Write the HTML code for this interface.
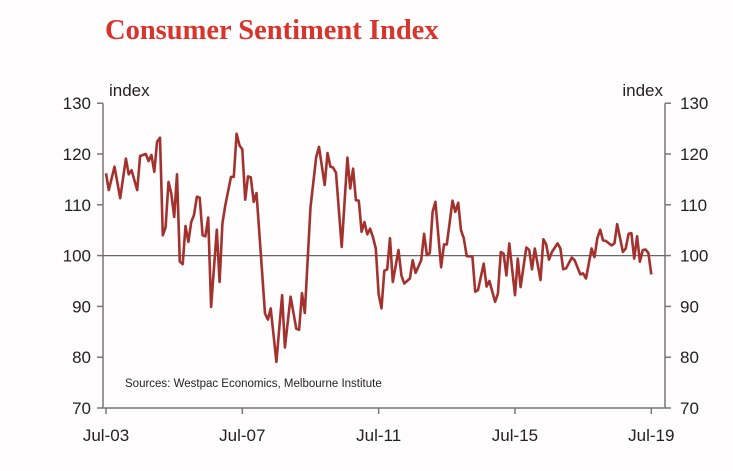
<!DOCTYPE html>
<html><head><meta charset="utf-8"><style>
body{margin:0;background:#fff;}
svg{display:block;font-family:"Liberation Sans",Arial,sans-serif;}
</style></head><body>
<svg id="chart" width="733" height="471">
<rect width="733" height="471" fill="#fffdfd"/>
<text x="105" y="39" font-family="Liberation Serif,serif" font-weight="bold" font-size="28.5" fill="#d9342b">Consumer Sentiment Index</text>
<g id="axes"></g>
<g id="plot"></g>
</svg>
<script>
const months=[0,1,3,5,7,8,9,11,12,14,15,16,17,18,19,20,21,22,23,24,25,26,27,28,29,30,31,32,33,34,35,36,37,39,40,41,42,44,45,46,47,48,49,50,51,52,53,54,56,57,58,60,62,63,65,67,68,69,70,72,74,75,77,78,79,80,81,83,85,86,87,88,89,90,91,92,93,94,95,96,97,98,99,100,101,103,104,105,107,108,109,111,112,113,114,115,116,118,119,120,122,123,124,125,126,127,129,130,131,133,134,135,137,138,139,140,141,142,144,145,146,148,149,150,151,153,154,155,156,157,159,160,161,162,164,165,167,168,169,171,172,173,174,175,176,178,179,180,182,183,184,185,186,187,188,189,190,191,192];
const values=[116.2,112.9,117.5,111.3,119.1,116,116.8,112.9,119.6,120,118.6,119.8,116.5,122.4,123.2,104,105.6,114.5,112.2,107.6,116,98.8,98.3,105.8,102.7,106.6,108,111.6,111.4,104,103.8,107.5,89.9,105.1,94.8,106.3,109.9,115.5,115.5,124,121.7,120.9,111,115.6,115.4,110.6,112.3,104.3,88.6,87.4,89.6,79.1,92.2,81.9,91.9,85.6,85.4,92.6,88.7,109.5,119.4,121.4,113.9,120.2,117.5,117.3,116.3,101.7,119.3,113.2,117.1,110.9,110.8,104.7,106.6,104.2,105.3,103.6,101.4,92.5,89.6,97,97.3,103.4,94.8,101.1,96.1,94.5,95.5,99.1,96.6,99.1,104.3,100.1,100.5,108.6,110.6,97.7,102.2,102.2,110.8,108.6,110.4,105,103.4,99.9,99.8,92.9,93.2,98.4,93.9,95,90.9,92.5,100.7,100.4,96.1,102.4,92.2,99.4,93.8,101.6,101.1,97.3,101.4,95.2,103.2,102.2,99.2,100.7,102.4,101.4,97.3,97.5,99.6,99.1,96.3,96.5,95.5,101.4,99.7,103.4,105.1,103,102.9,102,102.4,106.2,100.7,101.4,104.3,104.4,99.4,103.8,98.8,101.1,101.2,100.5,96.3];
const yTicks=[70,80,90,100,110,120,130];
const xTickMonths=[0,48,96,144,192];
const xTickLabels=["Jul-03","Jul-07","Jul-11","Jul-15","Jul-19"];
const X=m=>106+m*2.84;
const Y=v=>408-(v-70)*5.08;
const ns="http://www.w3.org/2000/svg";
const axes=document.getElementById('axes'),plot=document.getElementById('plot');
function mk(tag,attrs,parent,txt){const e=document.createElementNS(ns,tag);for(const k in attrs)e.setAttribute(k,attrs[k]);if(txt!==undefined)e.textContent=txt;parent.appendChild(e);return e;}
let e;
e=mk('line',{x1:103,y1:Y(130),x2:103,y2:408,stroke:'#777','stroke-width':1.5},axes);


e=mk('line',{x1:665,y1:Y(130),x2:665,y2:408,stroke:'#777','stroke-width':1.5},axes);


e=mk('line',{x1:103,y1:408,x2:665,y2:408,stroke:'#777','stroke-width':1.5},axes);


e=mk('line',{x1:103,y1:Y(100),x2:665,y2:Y(100),stroke:'#666','stroke-width':1.2},axes);


yTicks.forEach(v=>{
 mk('line',{x1:97,y1:Y(v),x2:103,y2:Y(v),stroke:'#777','stroke-width':1.5},axes);
 mk('line',{x1:665,y1:Y(v),x2:671,y2:Y(v),stroke:'#777','stroke-width':1.5},axes);
 e=mk('text',{x:91,y:Y(v)+6,'text-anchor':'end','font-size':17,fill:'#222'},axes,v);
 
 
 e=mk('text',{x:680,y:Y(v)+6,'font-size':17,fill:'#222'},axes,v);
 
 
});
xTickMonths.forEach((m,i)=>{
 mk('line',{x1:X(m),y1:408,x2:X(m),y2:414,stroke:'#777','stroke-width':1.5},axes);
 e=mk('text',{x:X(m),y:441,'text-anchor':'middle','font-size':17,fill:'#222'},axes,xTickLabels[i]);
 
 
});
e=mk('text',{x:109,y:96,'font-size':17,fill:'#222'},axes,'index');


e=mk('text',{x:663,y:96,'text-anchor':'end','font-size':17,fill:'#222'},axes,'index');


e=mk('text',{x:125,y:387,'font-size':11.5,fill:'#222'},axes,'Sources: Westpac Economics, Melbourne Institute');


const pts=months.map((m,i)=>X(m).toFixed(1)+','+Y(values[i]).toFixed(1)).join(' ');
e=mk('polyline',{points:pts,fill:'none',stroke:'#a3322e','stroke-width':2.6,'stroke-linejoin':'round'},plot);


</script>
</body></html>
